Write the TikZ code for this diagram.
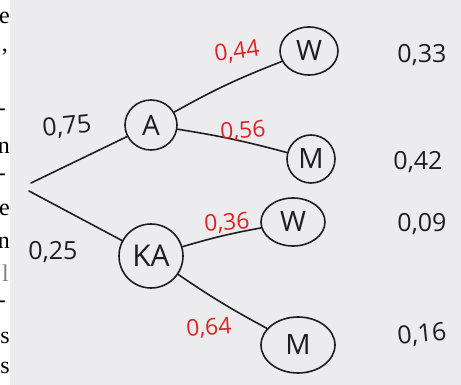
\documentclass[tikz,border=0pt]{standalone}
\usepackage{fontspec}
\usetikzlibrary{shapes.geometric}
\setmainfont{Open Sans}
\newfontfamily\edgefont{Liberation Serif}
\definecolor{paper}{RGB}{236,236,239}
\definecolor{ink}{RGB}{30,30,33}
\definecolor{redink}{RGB}{222,35,35}
\begin{document}
\begin{tikzpicture}[x=1pt,y=-1pt,
  ev/.style={draw=ink,line width=1.6pt,ellipse,inner sep=0pt,text=ink,font=\fontsize{28}{28}\selectfont},
  edge/.style={draw=ink,line width=1.6pt,line cap=round},
  blab/.style={text=ink,font=\fontsize{25}{25}\selectfont},
  rlab/.style={text=redink,font=\fontsize{23}{23}\selectfont},
  frag/.style={anchor=east,inner sep=0pt,text=black,font=\edgefont\fontsize{24}{24}\selectfont}]
\useasboundingbox (0,0) rectangle (461,385);
\fill[paper] (0,0) rectangle (461,385);
\fill[white] (0,0) rectangle (10,385);
\begin{scope}
\clip (0,0) rectangle (10,385);
\node[frag] (f1) at (10,18) {e};
\node[frag] (f2) at (8,52) {,};
\node[frag] (f3) at (6,112) {-};
\node[frag] (f4) at (10,148) {n};
\node[frag] (f5) at (6,177) {-};
\node[frag] (f6) at (10,210) {e};
\node[frag] (f7) at (10,243) {n};
\node[frag,text=gray] (f8) at (9,273) {l};
\node[frag] (f9) at (6,304) {-};
\node[frag] (f10) at (10,338) {s};
\node[frag] (f11) at (10,368) {s};
\end{scope}
\coordinate (r1) at (31,183);
\coordinate (r2) at (29,191);
\node[ev,minimum width=52pt,minimum height=50pt] (A) at (151,125) {A};
\node[ev,minimum width=64pt,minimum height=64pt,font=\fontsize{30}{30}\selectfont] (KA) at (151,256) {KA};
\node[ev,minimum width=58pt,minimum height=48pt] (W1) at (309,51) {W};
\node[ev,minimum width=48pt,minimum height=48pt] (M1) at (311,159) {M};
\node[ev,minimum width=64pt,minimum height=48pt] (W2) at (293,222) {W};
\node[ev,minimum width=74pt,minimum height=56pt] (M2) at (298,345) {M};
\draw[edge] (r1) -- (A);
\draw[edge] (r2) -- (KA);
\draw[edge] (A) to[bend left=4] (W1);
\draw[edge] (A) to[bend left=3] (M1);
\draw[edge] (KA) to[bend left=3] (W2);
\draw[edge] (KA) to[bend right=3] (M2);
\node[blab,rotate=6] (p1) at (67,127) {0,75};
\node[blab] (p2) at (53,252) {0,25};
\node[rlab,rotate=8] (p3) at (237,52) {0,44};
\node[rlab,rotate=4] (p4) at (243,131) {0,56};
\node[rlab,rotate=4] (p5) at (227,223) {0,36};
\node[rlab,rotate=4] (p6) at (209,328) {0,64};
\node[blab] (q1) at (422,55) {0,33};
\node[blab] (q2) at (418,162) {0,42};
\node[blab] (q3) at (422,224) {0,09};
\node[blab,rotate=6] (q4) at (422,335) {0,16};
\end{tikzpicture}
\end{document}
